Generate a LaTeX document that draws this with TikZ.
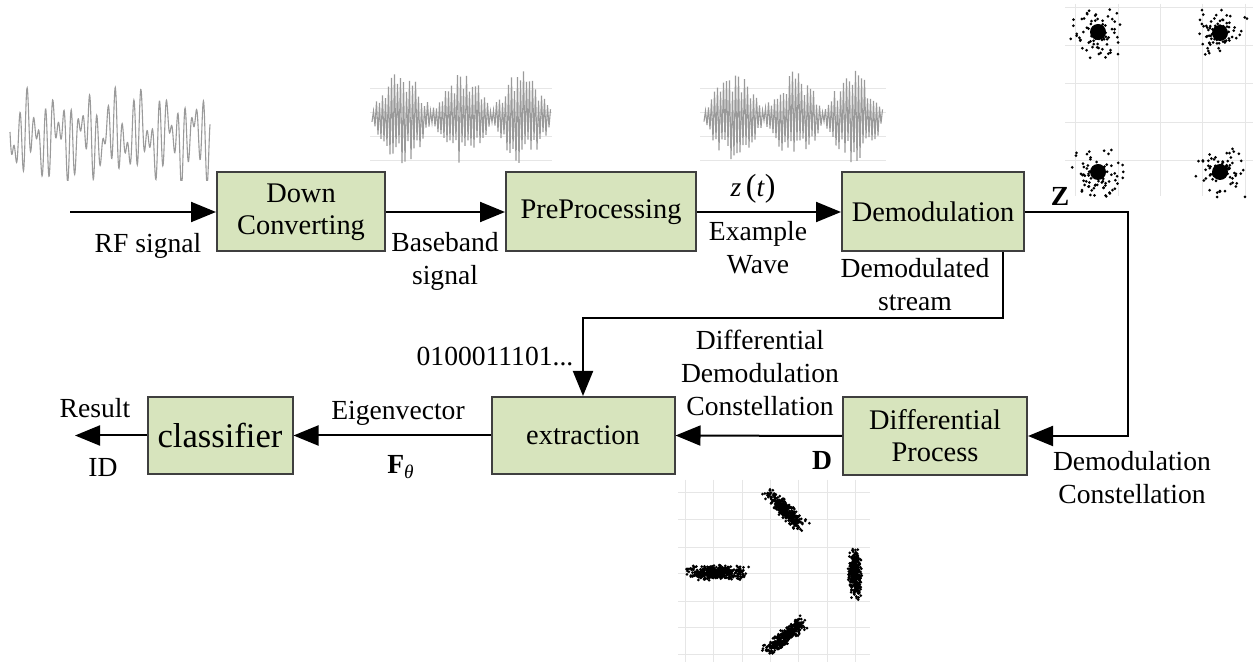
\documentclass[tikz,border=0pt]{standalone}
\usepackage{fontspec}
\setmainfont{Liberation Serif}
\usetikzlibrary{arrows.meta}
\definecolor{boxfill}{HTML}{D7E4BD}
\definecolor{boxdraw}{HTML}{3F3F3F}
\definecolor{wavec}{HTML}{9A9A9A}
\definecolor{gridc}{HTML}{E6E6E6}
\newcommand\dotcluster[7]{%
  \foreach \k in {1,...,#7}{%
    \pgfmathsetmacro\ss{(rand+rand)/2}%
    \pgfmathsetmacro\tt{(rand+rand)/2}%
    \pgfmathsetmacro\px{#1+(#3)*(#5)*\ss-(#4)*(#6)*\tt}%
    \pgfmathsetmacro\py{#2+(#4)*(#5)*\ss+(#3)*(#6)*\tt}%
    \fill (\px,\py) circle (0.75pt);
  }}
\newcommand\qcluster[2]{%
  \foreach \k in {1,...,75}{%
    \pgfmathsetmacro\px{#1+30*(rand+rand)/2}%
    \pgfmathsetmacro\py{#2+28*(rand+rand)/2}%
    \fill (\px,\py) circle (0.75pt);
  }
  \fill (#1,#2) circle (4pt);}
\begin{document}
\begin{tikzpicture}[x=0.5pt,y=-0.5pt,
  blk/.style={draw=boxdraw, line width=1pt, fill=boxfill, align=center,
    font=\fontsize{14.2}{16}\selectfont, inner sep=0pt},
  lbl/.style={align=center, font=\fontsize{13.8}{16.5}\selectfont, inner sep=0pt},
  arr/.style={line width=1pt, -{Triangle[length=12.5pt,width=10pt]}},
  wv/.style={draw=wavec, line width=0.55pt},
  gl/.style={draw=gridc, line width=0.4pt}]
\useasboundingbox (0,0) rectangle (1253,662);
\fill[white] (0,0) rectangle (1253,662);

% ---------- RF waveform ----------
\begin{scope}
\clip (8,86) rectangle (212,181);
\draw[wv] plot[domain=10:210, samples=700]
  (\x, {136 - 20.5*(sin(\x*57)+0.9*sin(\x*41+40)+0.6*sin(\x*13+70))});
\end{scope}

% ---------- baseband waveform ----------
\foreach \yy in {88,112,136,160} {\draw[gl] (370,\yy) -- (552,\yy);}
\pgfmathsetseed{7}
\draw[wv] plot[domain=0:178.5, samples=120]
  ({372+\x}, {117 + (6+41*abs(sin(\x*3)))*cos(mod(\x,3)*120)*(0.75+0.25*rand)});
% ---------- example waveform ----------
\foreach \yy in {88,112,136,160} {\draw[gl] (700,\yy) -- (886,\yy);}
\pgfmathsetseed{11}
\draw[wv] plot[domain=0:178.5, samples=120]
  ({704+\x}, {117 + (6+41*abs(sin(\x*3)))*cos(mod(\x,3)*120)*(0.75+0.25*rand)});

% ---------- QPSK constellation ----------
\begin{scope}
\clip (1065,4) rectangle (1253,196);
\foreach \xx in {1075,1118,1160,1202,1245} {\draw[gl] (\xx,4) -- (\xx,196);}
\foreach \yy in {7,45,83,122,160,196} {\draw[gl] (1065,\yy) -- (1253,\yy);}
\end{scope}
\pgfmathsetseed{3}
\qcluster{1098}{32}
\qcluster{1220}{33}
\qcluster{1098}{172}
\qcluster{1220}{172}

% ---------- differential constellation ----------
\begin{scope}
\clip (678,480) rectangle (870,662);
\foreach \xx in {685,713,742,770,798,827,855} {\draw[gl] (\xx,480) -- (\xx,662);}
\foreach \yy in {492,519,547,573,601,627,654} {\draw[gl] (678,\yy) -- (870,\yy);}
\end{scope}
\pgfmathsetseed{5}
\dotcluster{785}{510}{0.72}{0.70}{28}{8}{360}
\dotcluster{716}{573}{1}{0}{33}{8}{420}
\dotcluster{855}{574}{0}{1}{27}{7}{340}
\dotcluster{785}{637}{0.79}{-0.61}{28}{8}{360}

% ---------- blocks ----------
\node[blk, minimum width=84pt, minimum height=39.5pt] (dc) at (301,212) {Down\\Converting};
\node[blk, minimum width=95pt, minimum height=39.5pt] (pp) at (601,212) {PreProcessing};
\node[blk, minimum width=91pt, minimum height=39.5pt] (dm) at (933,212) {Demodulation};
\node[blk, minimum width=91.5pt, minimum height=38.5pt] (ex) at (583,435.5) {extraction};
\node[blk, minimum width=72.5pt, minimum height=38.5pt, font=\fontsize{17.3}{19}\selectfont] (cl) at (220,435.5) {classifier};
\node[blk, minimum width=92pt, minimum height=39pt] (dp) at (935,436) {Differential\\Process};

% ---------- connectors ----------
\coordinate (in) at (70,212);
\coordinate (c1) at (1003,318);
\coordinate (c2) at (1128,212);
\coordinate (out) at (75,435.5);
\draw[arr] (in) -- (dc.west);
\draw[arr] (dc.east) -- (pp.west);
\draw[arr] (pp.east) -- (dm.west);
\draw[arr] (dm.south -| c1) -- (c1) -| (ex.north);
\draw[arr] (dm.east) -- (c2) |- (dp.east);
\draw[arr] (dp.west) -- (ex.east);
\draw[arr] (ex.west) -- (cl.east);
\draw[arr] (cl.west) -- (out);

% ---------- labels ----------
\node[lbl] (lrf) at (148,246) {RF signal};
\node[lbl] (lbb) at (445,261) {Baseband\\signal};
\node[lbl] (lzt) at (753,189) {\textit{z}\,{\fontsize{16}{16}\selectfont(}\textit{t}{\fontsize{16}{16}\selectfont)}};
\node[lbl] (lex) at (758,248) {Example\\Wave};
\node[lbl] (lds) at (915,285) {Demodulated\\stream};
\node[lbl] (lZ) at (1060,196) {\textbf{Z}};
\node[lbl] (lbits) at (495,357) {0100011101...};
\node[lbl] (ldd) at (760,373) {Differential\\Demodulation\\Constellation};
\node[lbl] (leig) at (398,413) {Eigenvector};
\node[lbl] (lf) at (401,467) {\textbf{F}\textsubscript{\textit{θ}}};
\node[lbl] (lD) at (822,460) {\textbf{D}};
\node[lbl] (lres) at (95,408) {Result};
\node[lbl] (lid) at (103,467) {ID};
\node[lbl] (ldc) at (1132,478) {Demodulation\\Constellation};
\end{tikzpicture}
\end{document}
